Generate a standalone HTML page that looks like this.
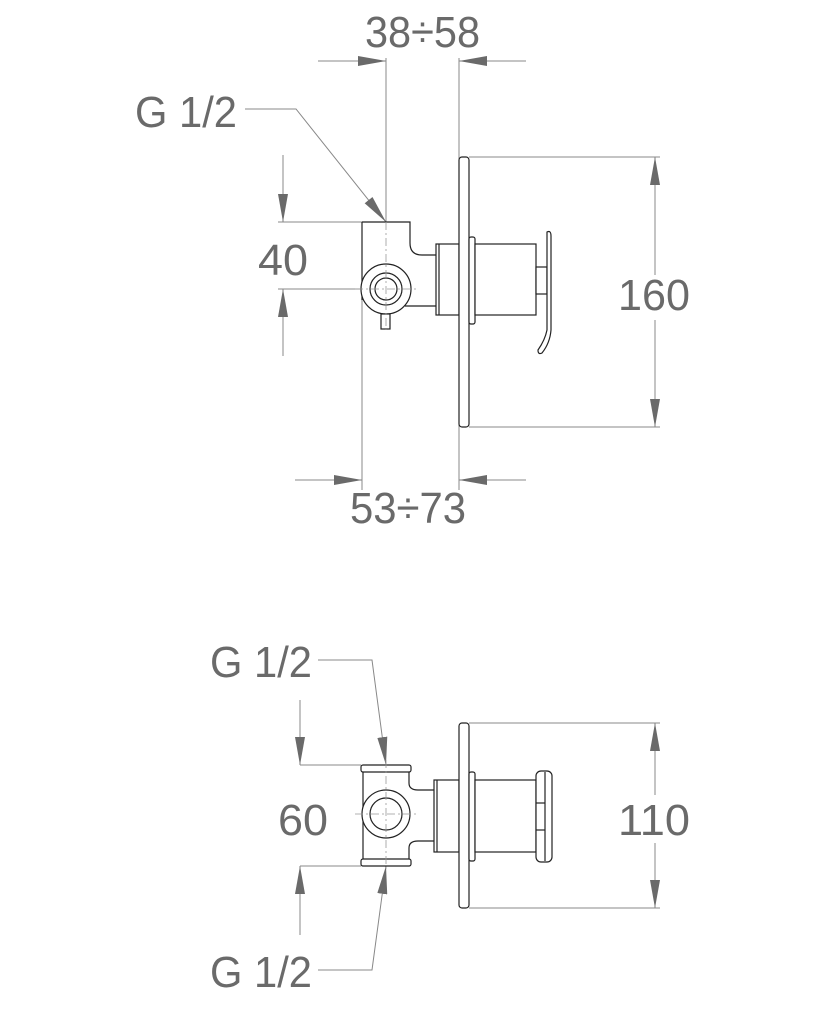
<!DOCTYPE html>
<html><head><style>html,body{margin:0;padding:0;background:#fff}</style></head>
<body>
<svg width="819" height="1024" viewBox="0 0 819 1024" xmlns="http://www.w3.org/2000/svg">
<defs>
<marker id="a" viewBox="0 0 28 10" refX="28" refY="5" markerWidth="28" markerHeight="10" markerUnits="userSpaceOnUse" orient="auto"><path d="M0,0 L28,5 L0,10 z" fill="#6a6a6a"/></marker>
</defs>
<g font-family="Liberation Sans, sans-serif" font-size="44" fill="#6a6a6a">
<text x="365" y="47" textLength="115" lengthAdjust="spacingAndGlyphs">38÷58</text>
<text x="135" y="127" textLength="102" lengthAdjust="spacingAndGlyphs">G 1/2</text>
<text x="258" y="275" textLength="50" lengthAdjust="spacingAndGlyphs">40</text>
<text x="618" y="310" textLength="72" lengthAdjust="spacingAndGlyphs">160</text>
<text x="350" y="523" textLength="116" lengthAdjust="spacingAndGlyphs">53÷73</text>
<text x="210" y="677" textLength="102" lengthAdjust="spacingAndGlyphs">G 1/2</text>
<text x="278" y="835" textLength="50" lengthAdjust="spacingAndGlyphs">60</text>
<text x="618" y="835" textLength="72" lengthAdjust="spacingAndGlyphs">110</text>
<text x="210" y="987" textLength="102" lengthAdjust="spacingAndGlyphs">G 1/2</text>
</g>
<g stroke="#888" stroke-width="1" fill="none">
<line x1="318" y1="61" x2="386" y2="61" marker-end="url(#a)"/>
<line x1="526" y1="61" x2="459" y2="61" marker-end="url(#a)"/>
<line x1="386" y1="58" x2="386" y2="222"/>
<line x1="459" y1="58" x2="459" y2="490"/>
<line x1="362" y1="222" x2="362" y2="490"/>
<line x1="295" y1="480" x2="362" y2="480" marker-end="url(#a)"/>
<line x1="526" y1="480" x2="459" y2="480" marker-end="url(#a)"/>
<polyline points="245,109 296,109 386,222" marker-end="url(#a)"/>
<line x1="278" y1="222" x2="362" y2="222"/>
<line x1="278" y1="289" x2="386" y2="289"/>
<line x1="283" y1="155" x2="283" y2="222" marker-end="url(#a)"/>
<line x1="283" y1="356" x2="283" y2="289" marker-end="url(#a)"/>
<line x1="469" y1="157" x2="660" y2="157"/>
<line x1="469" y1="427" x2="660" y2="427"/>
<line x1="655" y1="275" x2="655" y2="157" marker-end="url(#a)"/>
<line x1="655" y1="320" x2="655" y2="427" marker-end="url(#a)"/>
<polyline points="318,660 372,660 386,765" marker-end="url(#a)"/>
<polyline points="318,970 372,970 386,866" marker-end="url(#a)"/>
<line x1="300" y1="765" x2="361" y2="765"/>
<line x1="300" y1="866" x2="361" y2="866"/>
<line x1="300" y1="700" x2="300" y2="765" marker-end="url(#a)"/>
<line x1="300" y1="935" x2="300" y2="866" marker-end="url(#a)"/>
<line x1="469" y1="723" x2="660" y2="723"/>
<line x1="469" y1="908" x2="660" y2="908"/>
<line x1="655" y1="795" x2="655" y2="723" marker-end="url(#a)"/>
<line x1="655" y1="843" x2="655" y2="908" marker-end="url(#a)"/>
</g>
<g stroke="#222" stroke-width="1.2" fill="#fff">
<path d="M362,222 H410 V243 Q410,255 422,255 H436 M362,222 V300 M405,306 H436"/>
<circle cx="386" cy="289" r="25"/>
<circle cx="386" cy="289" r="16"/>
<circle cx="386" cy="289" r="11"/>
<rect x="381" y="314" width="9" height="15"/>
<rect x="436" y="244" width="23" height="71"/>
<line x1="439" y1="244" x2="439" y2="315"/>
<rect x="459" y="157" width="10" height="270" rx="3"/>
<rect x="469" y="237" width="6" height="87" rx="2"/>
<rect x="475" y="244" width="61" height="71"/>
<rect x="536" y="267" width="11" height="27"/>
<path d="M547,232 Q551,230 551,236 V330 Q550,343 542,353 Q538,355 538,350 Q545,340 547,330 Z"/>
<rect x="361" y="765" width="50" height="7" rx="2"/>
<rect x="361" y="859" width="50" height="7" rx="2"/>
<path d="M363,772 V859 M409,772 V783 Q409,790 418,790 H434 M409,859 V848 Q409,841 418,841 H434" fill="none"/>
<circle cx="386" cy="814" r="24"/>
<circle cx="386" cy="814" r="16"/>
<rect x="434" y="780" width="25" height="72"/>
<line x1="437" y1="780" x2="437" y2="852"/>
<rect x="459" y="723" width="10" height="185" rx="3"/>
<rect x="469" y="772" width="6" height="89" rx="2"/>
<rect x="475" y="780" width="61" height="72"/>
<rect x="536" y="771" width="16" height="91" rx="5"/>
<line x1="545" y1="772" x2="545" y2="861"/>
<line x1="536" y1="803" x2="545" y2="803"/>
<line x1="536" y1="830" x2="545" y2="830"/>
</g>
<g stroke="#999" stroke-width="0.8" stroke-dasharray="8,3,2,3" fill="none">
<line x1="386" y1="222" x2="386" y2="330"/>
<line x1="355" y1="289" x2="417" y2="289"/>
<line x1="386" y1="760" x2="386" y2="870"/>
<line x1="355" y1="814" x2="417" y2="814"/>
</g>
</svg>
</body></html>
